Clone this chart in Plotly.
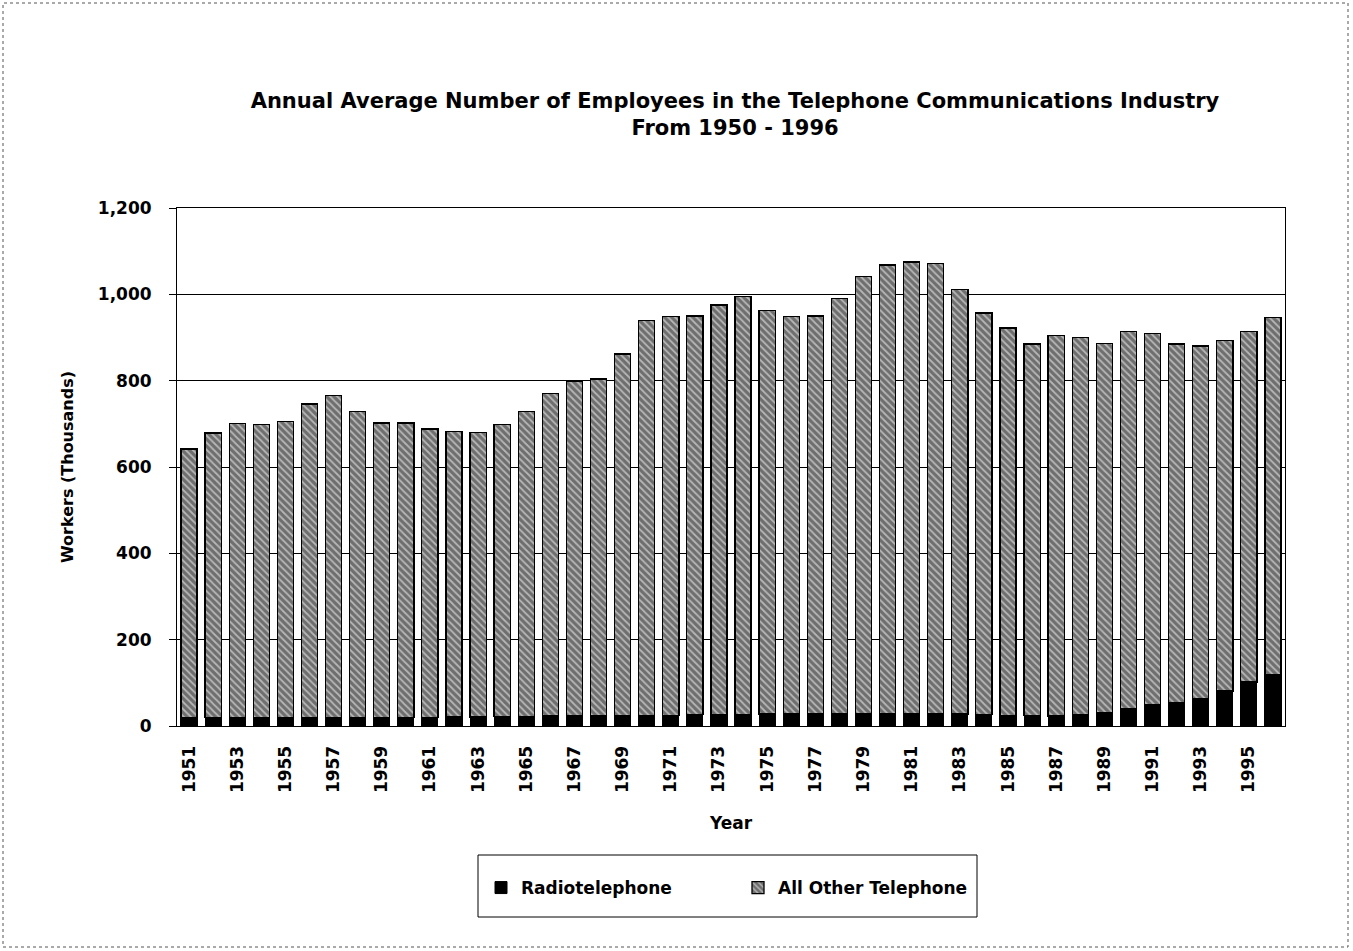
import plotly.graph_objects as go

years = [str(y) for y in range(1951, 1997)]
radiotelephone = [19, 19, 19, 19, 20, 20, 20, 20, 20, 20,
                  20, 21, 21, 22, 22, 23, 23, 24, 24, 25,
                  25, 26, 26, 27, 28, 28, 28, 28, 28, 28,
                  28, 28, 28, 27, 25, 24, 23, 26, 32, 40,
                  50, 55, 63, 81, 102, 120]
all_other = [623, 660, 681, 679, 685, 726, 746, 708, 682, 682,
             668, 661, 659, 677, 706, 747, 775, 780, 838, 915,
             923, 924, 949, 968, 934, 920, 922, 962, 1014, 1040,
             1047, 1044, 984, 930, 897, 861, 881, 874, 854, 874,
             860, 830, 817, 812, 812, 826]
tick_years = [str(y) for y in range(1951, 1997, 2)]

FONT = "DejaVu Sans"
W, H = 1353, 951
L, R, T, B = 177, 68, 208, 225
pw, ph = W - L - R, H - T - B

def px(x):
    return (x - L) / pw

def py(y):
    return (H - B - y) / ph

fig = go.Figure()
fig.add_trace(go.Bar(
    x=years, y=radiotelephone, name="Radiotelephone",
    marker=dict(color="black", line=dict(color="black", width=1)),
))
fig.add_trace(go.Bar(
    x=years, y=all_other, name="All Other Telephone",
    marker=dict(color="#7a7a7a", line=dict(color="black", width=1.3),
                pattern=dict(shape="\\", fgcolor="white", bgcolor="#6e6e6e",
                             size=5, solidity=0.35)),
))

fig.update_layout(
    width=W, height=H,
    barmode="stack", bargap=0.33,
    margin=dict(l=L, r=R, t=T, b=B),
    paper_bgcolor="white", plot_bgcolor="white",
    font=dict(family=FONT, color="black"),
    title=dict(
        text="Annual Average Number of Employees in the Telephone Communications Industry<br>From 1950 - 1996",
        x=735 / W, xanchor="center", y=1 - 108 / H, yanchor="top",
        font=dict(family=FONT, size=21, weight="bold", color="black"),
    ),
    showlegend=True,
    legend=dict(
        orientation="h", x=px(481), xanchor="left", y=py(870), yanchor="top",
        font=dict(family=FONT, size=17, weight="bold", color="black"),
        entrywidth=212, bgcolor="rgba(0,0,0,0)", traceorder="normal",
    ),
    xaxis=dict(
        type="category", tickvals=tick_years, ticktext=tick_years,
        tickangle=-90, ticks="", showgrid=False,
        showline=True, linecolor="black", linewidth=1, mirror=True,
        tickfont=dict(family=FONT, size=17, weight="bold", color="black"),
        ticklabelstandoff=12,
        title=dict(text="Year", standoff=24,
                   font=dict(family=FONT, size=17, weight="bold", color="black")),
    ),
    yaxis=dict(
        range=[0, 1200], dtick=200, tickformat=",d",
        showgrid=True, gridcolor="black", gridwidth=1,
        showline=True, linecolor="black", linewidth=1, mirror=True,
        ticks="outside", ticklen=7, tickcolor="black",
        tickfont=dict(family=FONT, size=17, weight="bold", color="black"),
        ticklabelstandoff=14,
        title=dict(text="Workers (Thousands)", standoff=20,
                   font=dict(family=FONT, size=16, weight="bold", color="black")),
        zeroline=False,
    ),
    separators=".,",
    shapes=[
        dict(type="rect", xref="paper", yref="paper",
             x0=px(478), x1=px(977), y0=py(917), y1=py(855),
             line=dict(color="black", width=1), fillcolor="rgba(0,0,0,0)", layer="above"),
        dict(type="rect", xref="paper", yref="paper",
             x0=px(3), x1=px(1348), y0=py(947), y1=py(3),
             line=dict(color="#555", width=1, dash="dot"), fillcolor="rgba(0,0,0,0)", layer="above"),
    ],
)

fig.write_html("out.html")
